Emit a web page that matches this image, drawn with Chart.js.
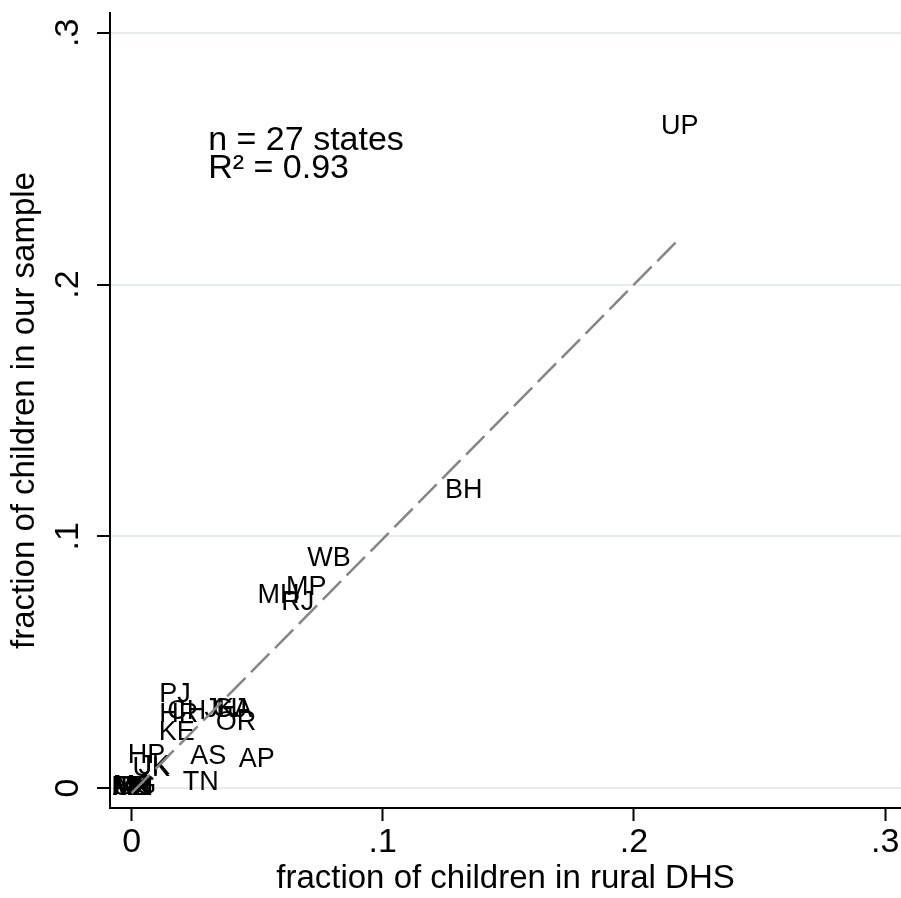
<!DOCTYPE html>
<html>
<head>
<meta charset="utf-8">
<script src="https://cdn.jsdelivr.net/npm/chart.js@4.4.0/dist/chart.umd.min.js"></script>
<style>
  html, body { margin: 0; padding: 0; background: #fff; }
  #wrap { width: 901px; height: 898px; }
</style>
</head>
<body>
<div id="wrap"><canvas id="chart" width="901" height="898"></canvas></div>
<script>
// state labels, share in rural DHS (x) and share in our sample (y)
const states = ['UP', 'BH', 'WB', 'MP', 'MH', 'RJ', 'PJ', 'HR', 'CH', 'JH', 'GJ', 'KA', 'OR', 'KE',
  'AS', 'AP', 'TN', 'HP', 'UK', 'JK', 'AR', 'MN', 'MG', 'MZ', 'NA', 'SK', 'TR'];
const dhsShare = [0.2182, 0.1322, 0.0786, 0.0695, 0.0585, 0.0661, 0.0173, 0.0188, 0.0220, 0.0356,
  0.0391, 0.0409, 0.0416, 0.0180, 0.0305, 0.0498, 0.0275, 0.0059, 0.0078, 0.0090,
  0.0000, 0.0003, 0.0012, 0.0002, 0.0005, 0.0001, 0.0010];
const sampleShare = [0.2627, 0.1184, 0.0910, 0.0797, 0.0763, 0.0737, 0.0373, 0.0294, 0.0306, 0.0314,
  0.0314, 0.0314, 0.0260, 0.0219, 0.0127, 0.0115, 0.0024, 0.0131, 0.0079, 0.0087,
  0.0004, 0.0002, 0.0006, 0.0003, 0.0005, 0.0004, 0.0002];

// fitted line end points
const fitX = [0.0, 0.2182];
const fitY = [-0.002, 0.2184];

const tickValues = [0, 0.1, 0.2, 0.3];

// note in the upper left (data coords)
const noteLines = ['n = 27 states', 'R\u00b2 = 0.93'];
const noteX = 0.0305;
const noteY = [0.2572, 0.2460];

const FONT = "'Liberation Sans', Arial, Helvetica, sans-serif";
Chart.defaults.font.family = FONT;
Chart.defaults.color = '#000';

function fmtTick(v) {
    if (Math.abs(v) < 1e-9) return '0';
    return v.toFixed(1).replace(/^0/, '');
}

// labels in place of markers (drawn under the fit line)
const stateLabels = {
    id: 'stateLabels',
    beforeDatasetsDraw(chart) {
        const meta = chart.getDatasetMeta(0);
        const ctx = chart.ctx;
        ctx.save();
        ctx.font = '27px ' + FONT;
        ctx.fillStyle = '#000';
        ctx.textAlign = 'center';
        ctx.textBaseline = 'middle';
        meta.data.forEach((pt, i) => ctx.fillText(states[i], pt.x, pt.y));
        ctx.restore();
    },
    afterDraw(chart) {
        const ctx = chart.ctx;
        const xs = chart.scales.x, ys = chart.scales.y;
        ctx.save();
        ctx.font = '34px ' + FONT;
        ctx.fillStyle = '#000';
        ctx.textAlign = 'left';
        ctx.textBaseline = 'middle';
        noteLines.forEach((t, i) => ctx.fillText(t, xs.getPixelForValue(noteX), ys.getPixelForValue(noteY[i])));
        ctx.restore();
    }
};

const ctx = document.getElementById('chart').getContext('2d');
new Chart(ctx, {
    type: 'scatter',
    data: {
        datasets: [{
            data: dhsShare.map((x, i) => ({ x: x, y: sampleShare[i] })),
            pointRadius: 0,
            pointHoverRadius: 0
        }, {
            type: 'line',
            data: fitX.map((x, i) => ({ x: x, y: fitY[i] })),
            borderColor: '#858585',
            borderWidth: 2.5,
            borderDash: [26, 8],
            pointRadius: 0,
            fill: false
        }]
    },
    options: {
        responsive: false,
        animation: false,
        devicePixelRatio: 1,
        layout: { padding: { top: 13, right: 0, left: 0, bottom: 0 } },
        plugins: {
            legend: { display: false },
            tooltip: { enabled: false }
        },
        scales: {
            x: {
                type: 'linear',
                min: -0.0086,
                max: 0.3063,
                afterBuildTicks: (s) => { s.ticks = tickValues.map(v => ({ value: v })); },
                afterFit: (s) => { s.height = 90; s.paddingLeft = 0; s.paddingRight = 0; },
                ticks: {
                    callback: fmtTick,
                    font: { size: 34 },
                    padding: 1,
                    maxRotation: 0,
                    autoSkip: false
                },
                grid: {
                    drawOnChartArea: false,
                    tickLength: 13,
                    tickColor: '#000',
                    tickWidth: 2
                },
                border: { color: '#000', width: 2 },
                title: {
                    display: true,
                    text: 'fraction of children in rural DHS',
                    font: { size: 33, lineHeight: 1 },
                    padding: { top: 0, bottom: 3 }
                }
            },
            y: {
                type: 'linear',
                min: -0.0079,
                max: 0.3079,
                afterBuildTicks: (s) => { s.ticks = tickValues.map(v => ({ value: v })); },
                afterFit: (s) => { s.width = 110; s.paddingTop = 0; s.paddingBottom = 0; },
                ticks: {
                    callback: fmtTick,
                    font: { size: 34 },
                    padding: 14,
                    minRotation: 90,
                    maxRotation: 90,
                    crossAlign: 'center',
                    autoSkip: false
                },
                grid: {
                    color: '#e3ecee',
                    lineWidth: 2,
                    tickLength: 13,
                    tickColor: '#000',
                    tickWidth: 2
                },
                border: { color: '#000', width: 2 },
                title: {
                    display: true,
                    text: 'fraction of children in our sample',
                    font: { size: 33, lineHeight: 1 },
                    padding: { top: 8, bottom: 0 }
                }
            }
        }
    },
    plugins: [stateLabels]
});
</script>
</body>
</html>
